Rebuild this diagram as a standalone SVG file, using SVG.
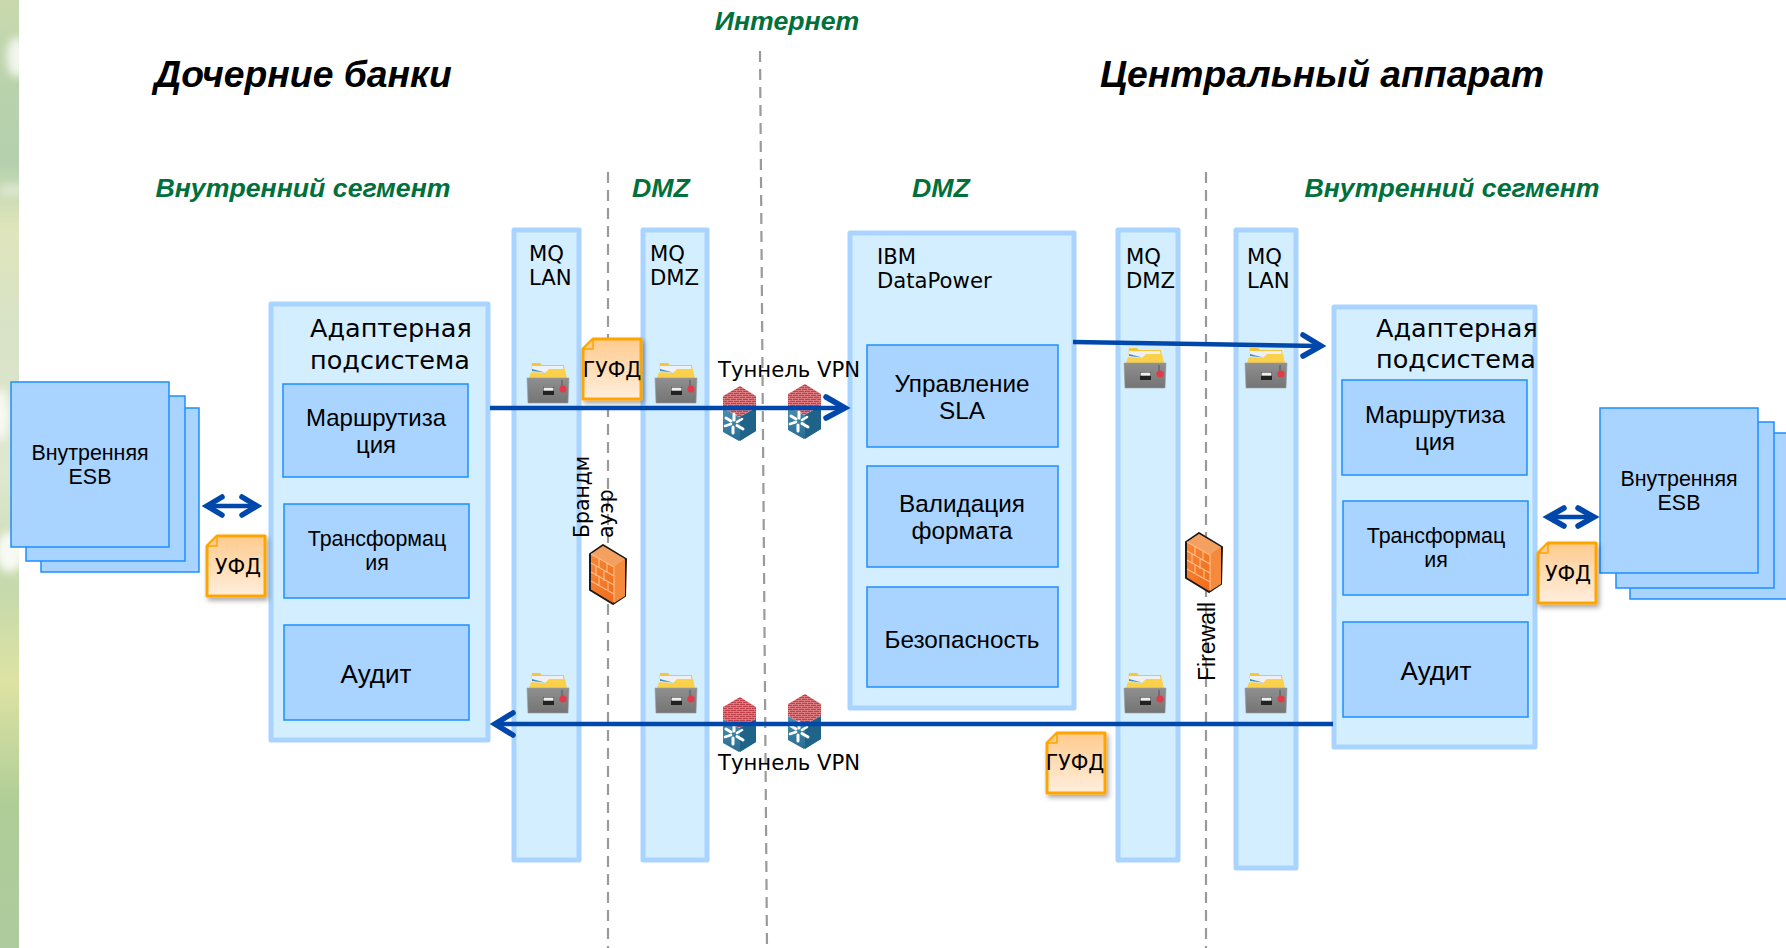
<svg xmlns="http://www.w3.org/2000/svg" width="1786" height="948" viewBox="0 0 1786 948">
<style>
text{font-family:"DejaVu Sans",sans-serif;fill:#000}
.ar{font-family:"Liberation Sans",Arial,sans-serif}
.title{font-family:"Liberation Sans",Arial,sans-serif;font-weight:bold;font-style:italic;font-size:37.3px}
.seg{font-family:"Liberation Sans",Arial,sans-serif;font-weight:bold;font-style:italic;font-size:26.7px;fill:#00703c}
.col{fill:#d3eeff;stroke:#a9d4ff;stroke-width:5;stroke-linejoin:round}
.box{fill:#a8d4ff;stroke:#1e8fff;stroke-width:1.5}
.dash{stroke:#9a9a9a;stroke-width:2.2;stroke-dasharray:11 7;fill:none}
.arr{stroke:#0047ab;stroke-width:4.5;fill:none}
.head{stroke:#0047ab;stroke-width:5.5;fill:none;stroke-linecap:round;stroke-linejoin:miter}
.c{text-anchor:middle}
</style>
<defs>
<linearGradient id="side" x1="0" y1="0" x2="0" y2="1">
<stop offset="0" stop-color="#c9d9ae"/><stop offset=".1" stop-color="#b8d2ac"/><stop offset=".17" stop-color="#b4d0ae"/><stop offset=".24" stop-color="#dfe5bb"/><stop offset=".34" stop-color="#d8e2c6"/><stop offset=".5" stop-color="#dfe8d0"/><stop offset=".62" stop-color="#c5d9ac"/><stop offset=".72" stop-color="#dde3a3"/><stop offset=".85" stop-color="#aecd97"/><stop offset="1" stop-color="#aecb9f"/>
</linearGradient>
<filter id="bl" x="-80%" y="-80%" width="260%" height="260%"><feGaussianBlur stdDeviation="4"/></filter>
<filter id="sh" x="-20%" y="-20%" width="150%" height="150%"><feDropShadow dx="2" dy="3" stdDeviation="2.5" flood-color="#000" flood-opacity=".35"/></filter>
<linearGradient id="note" x1="0" y1="0" x2="0" y2="1"><stop offset="0" stop-color="#ffcb8e"/><stop offset="1" stop-color="#ffeedd"/></linearGradient>
<linearGradient id="cab" x1="0" y1="0" x2="0" y2="1"><stop offset="0" stop-color="#8f8f8f"/><stop offset="1" stop-color="#747474"/></linearGradient>
<linearGradient id="fw" x1="0" y1="0" x2="1" y2="1"><stop offset="0" stop-color="#f98a3a"/><stop offset="1" stop-color="#ee6516"/></linearGradient>
<linearGradient id="blue" x1="0" y1="0" x2="0" y2="1"><stop offset="0" stop-color="#4a8fb0"/><stop offset="1" stop-color="#2a6d94"/></linearGradient>
<pattern id="brick" width="6" height="4" patternUnits="userSpaceOnUse"><rect width="6" height="4" fill="#bf3f4a"/><path d="M0 .5H6M1.5 0V2M4.5 2V4M0 2.5H6" stroke="#e58f92" stroke-width=".7"/></pattern>
<g id="cabinet">
<path d="M4 9 L5 0 H13 L15 2 H37 L38 9Z" fill="#f5c63a"/>
<path d="M4 9 L5 3 H36 L37 9Z" fill="#eef1f4"/>
<path d="M5 8 L18 9.5 L5 6Z" fill="#3a8cc8"/>
<path d="M2 15 L4 9 L18 10 L22 6 H38 L40 15Z" fill="#fbd04a"/>
<path d="M0 15 H42 L41 40 H1Z" fill="url(#cab)" stroke="#9a9a9a" stroke-width=".6"/>
<rect x="16" y="24" width="11" height="8" fill="#222"/><rect x="16.5" y="24.5" width="10" height="3.2" fill="#eee"/>
<path d="M35 17v6" stroke="#555"/><circle cx="36" cy="26" r="3.6" fill="#e23a48"/>
</g>
<g id="router">
<path d="M0 22 L16 31 L33 22 V45 L16 55 L0 46Z" fill="url(#blue)"/>
<path d="M17 31 L33 22 V45 L17 55Z" fill="#1f6389"/>
<path d="M0 10 L17 0 L33 10 V22 L16 31 L0 22Z" fill="url(#brick)"/>
<path d="M3 32 L8 35 M20 43 L14 39.5 M11 28 L11 34 M10 47 L10 41" stroke="#fff" stroke-width="3" stroke-linecap="round"/>
<path d="M2 40 L8 38 M19 33 L14 36" stroke="#fff" stroke-width="2.6" stroke-linecap="round"/>
</g>
<g id="firewall">
<path d="M1 10 L14 1 L37 15 L36 52 L24 60 L1 46Z" fill="url(#fw)" stroke="#1a1a1a" stroke-width="2" stroke-linejoin="round"/>
<path d="M25 23 L36 15 L36 52 L25 59Z" fill="#f58a3c"/>
<path d="M2 10 L14 2 L36 15 L25 23Z" fill="#f4a060"/>
<path d="M2 10 L25 23 V58 M2 19 L25 32 M2 28 L25 41 M2 37 L25 50 M10 14 V24 M18 19 V29 M7 22 V32 M15 27 V37 M10 32 V42 M19 37 V47" stroke="#ffc08a" stroke-width="1.1" fill="none"/>
</g>
<g id="noteshape">
<path d="M11 1 H59 V61 H1 V11Z" fill="url(#note)" stroke="#ffa500" stroke-width="3" stroke-linejoin="round" filter="url(#sh)"/>
<path d="M11 1 V11 H1Z" fill="#ffcb8e" stroke="#ffa500" stroke-width="1.5" stroke-linejoin="round"/>
</g>
</defs>
<g id="background">
<rect width="1786" height="948" fill="#fff"/>
<svg x="0" y="0" width="19" height="948"><rect width="19" height="948" fill="url(#side)"/>
<ellipse cx="17" cy="57" rx="10" ry="20" fill="#fff" opacity=".8" filter="url(#bl)"/>
<ellipse cx="12" cy="190" rx="14" ry="6" fill="#fff" opacity=".4" filter="url(#bl)"/>
<ellipse cx="1" cy="415" rx="8" ry="26" fill="#fff" opacity=".8" filter="url(#bl)"/>
<ellipse cx="10" cy="552" rx="14" ry="20" fill="#fff" opacity=".85" filter="url(#bl)"/></svg>
</g>
<g id="dashes">
<path class="dash" d="M760 51 L767 948"/>
<path class="dash" d="M608 172 V948"/>
<path class="dash" d="M1206 172 V948"/>
</g>
<g id="headings">
<text class="title" x="303" y="87" text-anchor="middle">Дочерние банки</text>
<text class="title" x="1322" y="87" text-anchor="middle">Центральный аппарат</text>
<text class="seg" x="787" y="30" text-anchor="middle">Интернет</text>
<text class="seg" x="303" y="197" text-anchor="middle">Внутренний сегмент</text>
<text class="seg" x="661" y="197" text-anchor="middle">DMZ</text>
<text class="seg" x="941" y="197" text-anchor="middle">DMZ</text>
<text class="seg" x="1452" y="197" text-anchor="middle">Внутренний сегмент</text>
</g>
<g id="esb-left">
<rect class="box" x="41" y="408" width="158" height="164"/>
<rect class="box" x="26" y="396" width="159" height="165"/>
<rect class="box" x="11" y="382" width="158" height="165"/>
<text class="ar c" font-size="21.4" x="90" y="460">Внутренняя</text>
<text class="ar c" font-size="21.4" x="90" y="484">ESB</text>
</g>
<g id="adapter-left">
<rect class="col" x="271" y="304" width="217" height="436"/>
<text font-size="25.5" x="310" y="337">Адаптерная</text>
<text font-size="25.5" x="310" y="369">подсистема</text>
<rect class="box" x="283" y="384" width="185" height="93"/>
<text class="ar c" font-size="24" x="376" y="426">Маршрутиза</text>
<text class="ar c" font-size="24" x="376" y="453">ция</text>
<rect class="box" x="284" y="504" width="185" height="94"/>
<text class="ar c" font-size="21.4" x="377" y="546">Трансформац</text>
<text class="ar c" font-size="21.4" x="377" y="570">ия</text>
<rect class="box" x="284" y="625" width="185" height="95"/>
<text class="ar c" font-size="26" x="376" y="683">Аудит</text>
</g>
<g id="mq-lan-left">
<rect class="col" x="514" y="230" width="65" height="630"/>
<text font-size="21.2" x="529" y="261">MQ</text>
<text font-size="21.2" x="529" y="285">LAN</text>
<use href="#cabinet" x="527" y="363"/>
<use href="#cabinet" x="527" y="673"/>
</g>
<g id="mq-dmz-left">
<rect class="col" x="643" y="230" width="64" height="630"/>
<text font-size="21.2" x="650" y="261">MQ</text>
<text font-size="21.2" x="650" y="285">DMZ</text>
<use href="#cabinet" x="655" y="363"/>
<use href="#cabinet" x="655" y="673"/>
</g>
<g id="ibm-datapower">
<rect class="col" x="850" y="233" width="224" height="475"/>
<text font-size="21.2" x="877" y="264">IBM</text>
<text font-size="21.2" x="877" y="288">DataPower</text>
<rect class="box" x="867" y="345" width="191" height="102"/>
<text class="ar c" font-size="24.3" x="962" y="392">Управление</text>
<text class="ar c" font-size="24.3" x="962" y="419">SLA</text>
<rect class="box" x="867" y="466" width="191" height="101"/>
<text class="ar c" font-size="24.3" x="962" y="512">Валидация</text>
<text class="ar c" font-size="24.3" x="962" y="539">формата</text>
<rect class="box" x="867" y="587" width="191" height="100"/>
<text class="ar c" font-size="24.3" x="962" y="648">Безопасность</text>
</g>
<g id="mq-dmz-right">
<rect class="col" x="1118" y="230" width="60" height="630"/>
<text font-size="21.2" x="1126" y="264">MQ</text>
<text font-size="21.2" x="1126" y="288">DMZ</text>
<use href="#cabinet" x="1124" y="348"/>
<use href="#cabinet" x="1124" y="673"/>
</g>
<g id="mq-lan-right">
<rect class="col" x="1236" y="230" width="60" height="638"/>
<text font-size="21.2" x="1247" y="264">MQ</text>
<text font-size="21.2" x="1247" y="288">LAN</text>
<use href="#cabinet" x="1245" y="348"/>
<use href="#cabinet" x="1245" y="673"/>
</g>
<g id="adapter-right">
<rect class="col" x="1334" y="307" width="201" height="440"/>
<text font-size="25.5" x="1376" y="337">Адаптерная</text>
<text font-size="25.5" x="1376" y="368">подсистема</text>
<rect class="box" x="1342" y="380" width="185" height="95"/>
<text class="ar c" font-size="24" x="1435" y="423">Маршрутиза</text>
<text class="ar c" font-size="24" x="1435" y="450">ция</text>
<rect class="box" x="1343" y="501" width="185" height="94"/>
<text class="ar c" font-size="21.4" x="1436" y="543">Трансформац</text>
<text class="ar c" font-size="21.4" x="1436" y="567">ия</text>
<rect class="box" x="1343" y="622" width="185" height="95"/>
<text class="ar c" font-size="26" x="1436" y="680">Аудит</text>
</g>
<g id="esb-right">
<rect class="box" x="1630" y="433" width="160" height="166"/>
<rect class="box" x="1616" y="422" width="158" height="166"/>
<rect class="box" x="1600" y="408" width="158" height="165"/>
<text class="ar c" font-size="21.4" x="1679" y="486">Внутренняя</text>
<text class="ar c" font-size="21.4" x="1679" y="510">ESB</text>
</g>
<g id="firewall-left">
<use href="#firewall" x="589" y="544"/>
<text font-size="20.4" transform="translate(589 538) rotate(-90)">Брандм</text>
<text font-size="20.4" transform="translate(613 538) rotate(-90)">ауэр</text>
</g>
<g id="firewall-right">
<use href="#firewall" x="1185" y="532"/>
<text class="ar" font-size="23" transform="translate(1215 681) rotate(-90)">Firewall</text>
</g>
<g id="vpn-top">
<use href="#router" x="723" y="386"/>
<use href="#router" x="788" y="384"/>
<text font-size="21.2" x="718" y="377">Туннель VPN</text>
</g>
<g id="vpn-bottom">
<use href="#router" x="723" y="697"/>
<use href="#router" x="788" y="694"/>
<text font-size="21.2" x="718" y="770">Туннель VPN</text>
</g>
<g id="guf-top"><use href="#noteshape" x="582" y="338"/><text font-size="20.5" x="612" y="377" text-anchor="middle">ГУФД</text></g>
<g id="guf-bottom"><use href="#noteshape" x="1046" y="732"/><text font-size="20.5" x="1075" y="770" text-anchor="middle">ГУФД</text></g>
<g id="ufd-left"><use href="#noteshape" x="206" y="535"/><text font-size="20.5" x="238" y="574" text-anchor="middle">УФД</text></g>
<g id="ufd-right"><use href="#noteshape" x="1537" y="542"/><text font-size="20.5" x="1568" y="581" text-anchor="middle">УФД</text></g>
<g id="connectors">
<path class="arr" d="M490 408 H844"/><path class="head" d="M826 397 L845 408 L826 418"/>
<path class="arr" d="M1073 342 L1320 346"/><path class="head" d="M1303 335 L1321 346 L1303 356"/>
<path class="arr" d="M1333 724 H496"/><path class="head" d="M513 713 L495 724 L513 735"/>
<path class="arr" d="M209 506 H255"/><path class="head" d="M222 497 L207 506 L222 515 M242 497 L257 506 L242 515"/>
<path class="arr" d="M1549 517 H1593"/><path class="head" d="M1564 508 L1548 517 L1564 526 M1578 508 L1594 517 L1578 526"/>
</g>
</svg>
